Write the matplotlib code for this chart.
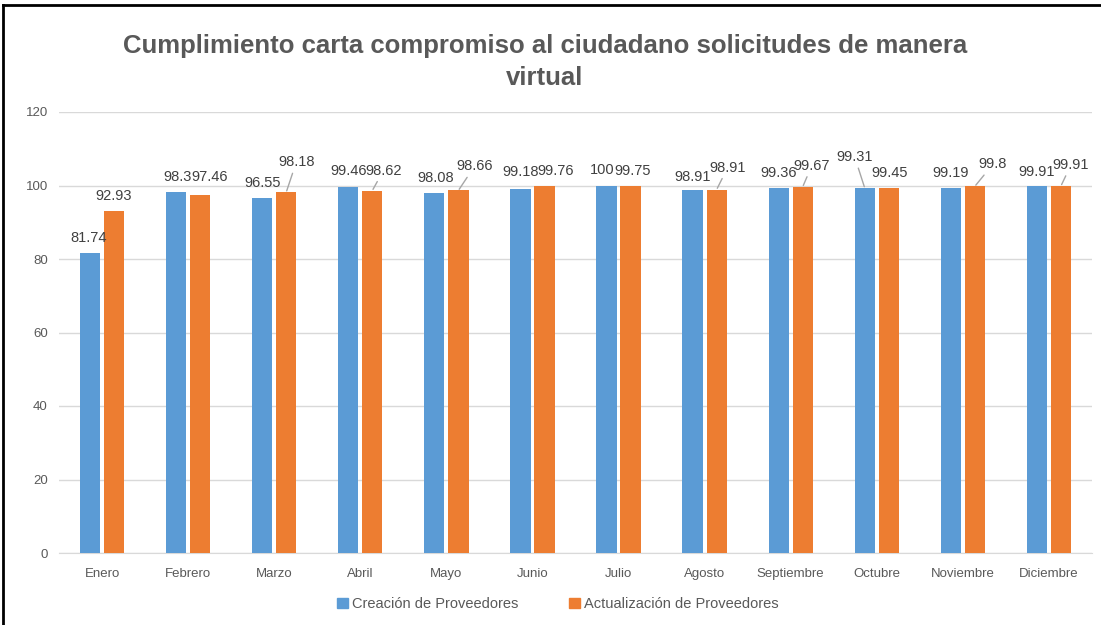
import matplotlib
matplotlib.use("Agg")
import matplotlib.pyplot as plt
import numpy as np
from matplotlib.lines import Line2D

months = ["Enero", "Febrero", "Marzo", "Abril", "Mayo", "Junio", "Julio",
          "Agosto", "Septiembre", "Octubre", "Noviembre", "Diciembre"]
creacion = [81.74, 98.3, 96.55, 99.46, 98.08, 99.18, 100, 98.91, 99.36, 99.31, 99.19, 99.91]
actualizacion = [92.93, 97.46, 98.18, 98.62, 98.66, 99.76, 99.75, 98.91, 99.67, 99.45, 99.8, 99.91]
series_names = ["Creación de Proveedores", "Actualización de Proveedores"]
title = "Cumplimiento carta compromiso al ciudadano solicitudes de manera\nvirtual"

# label offsets in pixels (dx, dy) from bar top center, and leader flag (style only)
off_c = [(-1, 15), (1, 15), (0, 15), (0, 16), (1, 15), (0, 17), (-4, 15), (0, 13),
         (0, 15), (-10, 31), (0, 15), (0, 14)]
lead_c = [False] * 9 + [True] + [False] * 2
off_a = [(0, 15), (9, 18), (10, 30), (11, 20), (16, 24), (11, 15), (2, 15), (11, 22),
         (9, 21), (1, 15), (18, 22), (10, 21)]
lead_a = [False, False, True, True, True, False, False, True, True, False, True, True]

blue = "#5b9bd5"
orange = "#ed7d31"
W, H = 1101, 625
fig = plt.figure(figsize=(W / 100, H / 100), dpi=100)
plt.rcParams['font.family'] = ['Liberation Sans', 'DejaVu Sans']

ax = fig.add_axes([59 / W, 1 - 553 / H, (1092 - 59) / W, (553 - 112) / H])
x = np.arange(len(months))
bw = 0.235
gap = 0.28
ax.bar(x - gap / 2, creacion, bw, color=blue, zorder=3)
ax.bar(x + gap / 2, actualizacion, bw, color=orange, zorder=3)

ax.set_ylim(0, 120)
ax.set_xlim(-0.5, len(months) - 0.5)
ax.set_yticks(np.arange(0, 121, 20))
ax.set_xticks(x)
ax.set_xticklabels(months)
ax.tick_params(axis='both', length=0, labelsize=9.5, colors="#595959")
ax.tick_params(axis='x', pad=11)
ax.tick_params(axis='y', pad=8)
ax.yaxis.grid(True, color="#d9d9d9", linewidth=1, zorder=0)
for s in ["top", "right", "left"]:
    ax.spines[s].set_visible(False)
ax.spines["bottom"].set_color("#d9d9d9")

def label(xpos, val, off, lead):
    txt = f"{val:g}"
    kw = dict(xy=(xpos, val), xytext=off, textcoords="offset pixels",
              ha="center", va="center", fontsize=10.5, color="#404040", zorder=5)
    if lead:
        kw["arrowprops"] = dict(arrowstyle="-", color="#a6a6a6", lw=1,
                                shrinkA=1, shrinkB=1)
    ax.annotate(txt, **kw)

for i in range(len(months)):
    label(x[i] - gap / 2, creacion[i], off_c[i], lead_c[i])
    label(x[i] + gap / 2, actualizacion[i], off_a[i], lead_a[i])

fig.text(545 / W, 1 - 62 / H, title, ha="center", va="center", fontsize=18.5,
         fontweight="bold", color="#595959", linespacing=1.45)

handles = [plt.Rectangle((0, 0), 1, 1, color=blue), plt.Rectangle((0, 0), 1, 1, color=orange)]
fig.legend(handles, series_names, loc="center", bbox_to_anchor=(558 / W, 1 - 604 / H),
           ncol=2, frameon=False, fontsize=10.5, labelcolor="#595959",
           handlelength=0.7, handleheight=0.7, handletextpad=0.3, columnspacing=3.5)

# frame lines (top and left)
fig.add_artist(Line2D([3 / W, 1], [1 - 5 / H, 1 - 5 / H], color="black", lw=2))
fig.add_artist(Line2D([3 / W, 3 / W], [0, 1 - 5 / H], color="black", lw=2))

fig.savefig("out.png", dpi=100)
